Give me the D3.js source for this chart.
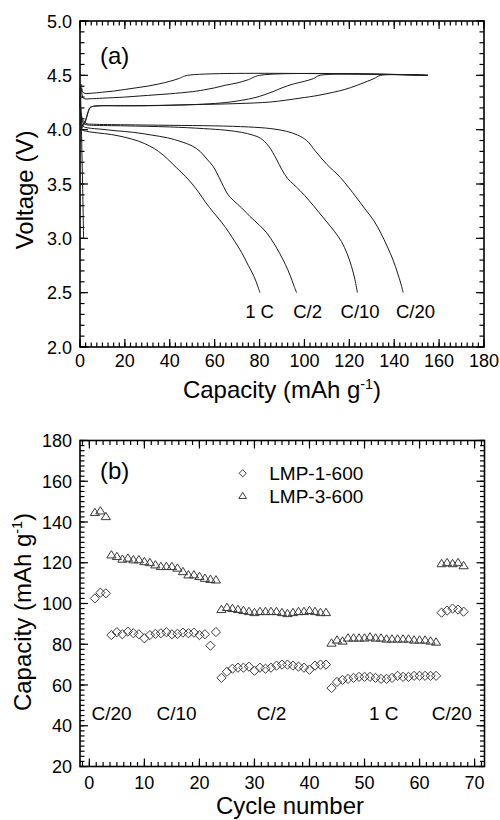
<!DOCTYPE html>
<html><head><meta charset="utf-8">
<script src="https://cdn.jsdelivr.net/npm/d3@7"></script>
<style>
html,body{margin:0;padding:0;background:#fff;}
text{font-family:"Liberation Sans",Arial,sans-serif;fill:#000;}
</style></head>
<body>
<svg id="chart" width="500" height="820"></svg>
<script>
// ---------- Panel (a) data: capacity (mAh/g), voltage (V) ----------
const rateLabels = ["1 C", "C/2", "C/10", "C/20"];
const charge1C  = [[1.6,3.0],[1.2,3.45],[0.7,3.95],[0.4,4.42],[1.5,4.34],[5,4.335],[10,4.345],[15,4.355],[20,4.37],[25,4.385],[30,4.40],[35,4.42],[40,4.445],[44,4.47],[48,4.5],[155,4.5]];
const chargeC2  = [[0.3,4.05],[0.6,4.38],[1.5,4.29],[5,4.285],[10,4.29],[20,4.30],[30,4.315],[40,4.33],[50,4.35],[55,4.365],[60,4.385],[65,4.41],[70,4.43],[75,4.46],[80,4.5],[155,4.5]];
const chargeC10 = [[0.5,4.0],[1.5,4.04],[2.5,4.08],[3.5,4.15],[4.5,4.2],[6,4.215],[20,4.22],[40,4.225],[55,4.235],[65,4.25],[72,4.27],[78,4.295],[82,4.32],[86,4.35],[90,4.385],[95,4.42],[100,4.445],[104,4.47],[107,4.5],[155,4.5]];
const chargeC20 = [[0.5,4.02],[1.5,4.05],[2.5,4.09],[3.5,4.16],[4.5,4.205],[6,4.215],[30,4.22],[50,4.23],[70,4.24],[85,4.255],[98,4.29],[106,4.315],[113,4.345],[118,4.37],[123,4.405],[128,4.445],[131,4.47],[134,4.5],[155,4.5]];
const disch1C   = [[0,4.38],[0.4,4.15],[1,4.0],[3,3.985],[8,3.97],[14,3.955],[20,3.93],[26,3.895],[31,3.85],[35,3.8],[39,3.73],[43,3.65],[47,3.57],[50,3.5],[53,3.42],[56,3.33],[59.4,3.24],[63,3.15],[66.5,3.05],[69,2.97],[72,2.87],[75,2.75],[77.5,2.65],[79.2,2.56],[80.2,2.5]];
const dischC2   = [[0,4.3],[0.5,4.1],[1.5,4.03],[4,4.015],[9,4.005],[16,3.99],[24,3.975],[32,3.95],[39,3.925],[45,3.89],[50,3.85],[53.5,3.80],[56.5,3.73],[59.4,3.66],[62,3.56],[64,3.475],[66,3.4],[68.3,3.35],[72,3.28],[75.8,3.2],[80,3.12],[83.2,3.05],[86.5,2.95],[89,2.86],[91.5,2.76],[93.6,2.66],[95.2,2.57],[96.5,2.5]];
const dischC10  = [[0,4.25],[0.5,4.12],[1.5,4.06],[3,4.045],[6,4.04],[20,4.035],[40,4.025],[55,4.01],[65,3.995],[72,3.975],[77,3.95],[80.5,3.92],[84,3.85],[87.5,3.73],[90,3.63],[92.5,3.55],[95,3.5],[98,3.44],[102,3.35],[106,3.25],[110,3.15],[113.5,3.06],[116.5,2.97],[119,2.86],[121,2.74],[122.5,2.62],[123.6,2.5]];
const dischC20  = [[0,4.3],[0.5,4.15],[1.5,4.08],[3,4.055],[6,4.05],[20,4.045],[40,4.04],[60,4.035],[75,4.025],[85,4.01],[92,3.985],[97,3.95],[101,3.9],[105,3.8],[110,3.68],[116,3.56],[123,3.38],[127,3.27],[131,3.16],[134,3.05],[137,2.92],[139.5,2.8],[141.5,2.68],[143,2.58],[144,2.5]];
const rateLabelCapA = [80, 101.4, 124.8, 149.5];
const rateLabelVoltA = 2.264;
const xTicksA = [0,20,40,60,80,100,120,140,160,180];
const yTicksA = [2.0,2.5,3.0,3.5,4.0,4.5,5.0];

// ---------- Panel (b) data: cycle number, capacity (mAh/g) ----------
const cycles = d3.range(1, 69);
const lmp1 = [102.5,105.3,105,
  84.5,85.9,84.9,86.2,85.4,84.9,82.9,84.5,85.1,85.4,85.9,84.9,85.1,85.7,85.4,85.7,84.5,84.9,79.3,86.0,
  63.5,66.5,68,68.5,68.5,69,67,68.5,68,68.5,69.5,70,70,69.5,69,68.5,67.5,69.5,70,70,
  58.5,61.5,62.5,63,63.5,64,64,64,63.5,63,63,63.5,64.5,64,64,64.5,64.5,64.5,64.5,64.5,
  95.5,96.5,97.5,97,96];
const lmp3 = [144.6,145.4,142.6,
  123.8,123.0,121.7,122.2,121.4,121.4,120.5,120.0,118.9,118.1,118.1,118.1,117.3,115.6,114.0,114.0,113.2,112.3,111.8,111.5,
  97,98,97.5,97,96.5,96,95.5,96,96,96,96,95.5,95,95.5,96,96,96.5,96,95.5,95.5,
  80.5,82,81.5,83,83,83,83,83.5,83,83,82.5,82.5,82.5,82.5,82.5,82,82,82,81.5,81,
  119.5,120,119.5,120,118.5];
const seriesNames = ["LMP-1-600", "LMP-3-600"];
const rateLabelsB = ["C/20", "C/10", "C/2", "1 C", "C/20"];
const rateLabelCycleB = [0.4, 12.2, 30.4, 50.8, 62.2];
const rateLabelCapB = 42.6;
const xTicksB = [0,10,20,30,40,50,60,70];
const yTicksB = [20,40,60,80,100,120,140,160,180];

// ---------- drawing ----------
const svg = d3.select("#chart");
const FS_TICK = 18, FS_TITLE = 24;

function frame(g, x, y, majX, minX, majY, minY, fmtY, xLabelDy) {
  const [x0, x1] = x.range(), [y0, y1] = y.range();
  const MJ = 8, MN = 4.5;
  const tk = g.append("g").attr("stroke", "#000").attr("stroke-width", 1.2);
  minX.forEach(v => {
    const px = x(v);
    tk.append("line").attr("x1", px).attr("x2", px).attr("y1", y0).attr("y2", y0 - MN);
    tk.append("line").attr("x1", px).attr("x2", px).attr("y1", y1).attr("y2", y1 + MN);
  });
  majX.forEach(v => {
    const px = x(v);
    tk.append("line").attr("x1", px).attr("x2", px).attr("y1", y0).attr("y2", y0 - MJ);
    tk.append("line").attr("x1", px).attr("x2", px).attr("y1", y1).attr("y2", y1 + MJ);
  });
  minY.forEach(v => {
    const py = y(v);
    tk.append("line").attr("x1", x0).attr("x2", x0 + MN).attr("y1", py).attr("y2", py);
    tk.append("line").attr("x1", x1).attr("x2", x1 - MN).attr("y1", py).attr("y2", py);
  });
  majY.forEach(v => {
    const py = y(v);
    tk.append("line").attr("x1", x0).attr("x2", x0 + MJ).attr("y1", py).attr("y2", py);
    tk.append("line").attr("x1", x1).attr("x2", x1 - MJ).attr("y1", py).attr("y2", py);
  });
  g.append("rect").attr("x", x0).attr("y", y1).attr("width", x1 - x0).attr("height", y0 - y1)
    .attr("fill", "none").attr("stroke", "#000").attr("stroke-width", 1.6);
  majX.forEach(v => g.append("text").attr("x", x(v)).attr("y", y0 + xLabelDy)
    .attr("text-anchor", "middle").attr("font-size", FS_TICK).text(v));
  majY.forEach(v => g.append("text").attr("x", x0 - 8).attr("y", y(v) + 6.5)
    .attr("text-anchor", "end").attr("font-size", FS_TICK).text(fmtY(v)));
}

function capTitle(sel, fs) {
  sel.attr("font-size", fs);
  sel.append("tspan").text("Capacity (mAh g");
  sel.append("tspan").attr("font-size", fs * 0.6).attr("dy", -fs * 0.38).text("-1");
  sel.append("tspan").attr("dy", fs * 0.38).text(")");
}

// Panel (a)
const xA = d3.scaleLinear().domain([0, 180]).range([80, 484]);
const yA = d3.scaleLinear().domain([2, 5]).range([347, 21]);
const gA = svg.append("g");
frame(gA, xA, yA, xTicksA, d3.range(0, 180.01, 2.5), yTicksA, d3.range(2, 5.001, 0.1),
  d => d.toFixed(1), 19.5);

const line = d3.line().x(d => xA(d[0])).y(d => yA(d[1])).curve(d3.curveCatmullRom.alpha(0.5));
[charge1C, chargeC2, chargeC10, chargeC20, disch1C, dischC2, dischC10, dischC20].forEach(s => {
  gA.append("path").attr("d", line(s)).attr("fill", "none").attr("stroke", "#1a1a1a").attr("stroke-width", 1);
});
rateLabels.forEach((t, i) => gA.append("text").attr("x", xA(rateLabelCapA[i])).attr("y", yA(rateLabelVoltA))
  .attr("text-anchor", "middle").attr("font-size", 18.5).text(t));
gA.append("text").attr("x", 100).attr("y", 63.5).attr("font-size", 24).text("(a)");
gA.append("text").attr("transform", "translate(32.5,190) rotate(-90)").attr("text-anchor", "middle")
  .attr("font-size", FS_TITLE).text("Voltage (V)");
capTitle(gA.append("text").attr("x", 282).attr("y", 398).attr("text-anchor", "middle"), FS_TITLE);

// Panel (b)
const xB = d3.scaleLinear().domain([-1.7, 71.8]).range([80, 484.5]);
const yB = d3.scaleLinear().domain([20, 180]).range([766.5, 440.5]);
const gB = svg.append("g");
frame(gB, xB, yB, xTicksB, d3.range(-1.25, 71.8, 1.25).filter(v => v > -1.7), yTicksB, d3.range(20, 180.01, 2.5),
  d => d, 22.5);

function diamondPath(cx, cy, r) {
  return `M${cx},${cy - r}L${cx + r},${cy}L${cx},${cy + r}L${cx - r},${cy}Z`;
}
function trianglePath(cx, cy, r) {
  const h = r * 1.6;
  return `M${cx},${cy - h * 0.6}L${cx + r},${cy + h * 0.4}L${cx - r},${cy + h * 0.4}Z`;
}
const mk = gB.append("g").attr("fill", "none").attr("stroke", "#3a3a3a").attr("stroke-width", 1);
cycles.forEach((c, i) => {
  mk.append("path").attr("d", diamondPath(xB(c), yB(lmp1[i]), 4.6));
  mk.append("path").attr("d", trianglePath(xB(c), yB(lmp3[i]), 4.6));
});
rateLabelsB.forEach((t, i) => gB.append("text").attr("x", xB(rateLabelCycleB[i])).attr("y", yB(rateLabelCapB))
  .attr("font-size", 19).text(t));
gB.append("text").attr("x", 100).attr("y", 478.5).attr("font-size", 24).text("(b)");
// legend
const lg = gB.append("g");
lg.append("path").attr("d", diamondPath(242.7, 473.3, 3.6)).attr("fill", "none").attr("stroke", "#3a3a3a");
lg.append("path").attr("d", trianglePath(242.7, 496, 3.8)).attr("fill", "none").attr("stroke", "#3a3a3a");
lg.append("text").attr("x", 269.3).attr("y", 480).attr("font-size", 19).text(seriesNames[0]);
lg.append("text").attr("x", 269.3).attr("y", 502.7).attr("font-size", 19).text(seriesNames[1]);
gB.append("text").attr("transform", "translate(31,612) rotate(-90)").attr("text-anchor", "middle")
  .call(s => capTitle(s, FS_TITLE));
gB.append("text").attr("x", 290).attr("y", 813.5).attr("text-anchor", "middle").attr("font-size", FS_TITLE).text("Cycle number");
</script>
</body></html>
